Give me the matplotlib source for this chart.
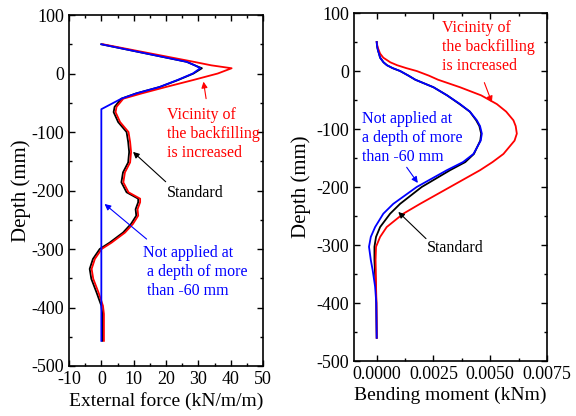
import numpy as np
import matplotlib
matplotlib.use('Agg')
import matplotlib.pyplot as plt
from matplotlib.ticker import MultipleLocator

plt.rcParams['font.family'] = ['Liberation Serif', 'DejaVu Serif']
plt.rcParams['axes.unicode_minus'] = False

# DATA --------------------------------------------------------------------------------------------->
# external force (kN/m/m) against depth (mm)
depth_f = [50, 20, 14, 9, 0, -11, -23, -34, -43, -57, -66, -83, -100, -117, -134, -152, -169,
           -186, -203, -214, -220, -232, -243, -257, -272, -289, -300, -317, -334, -351, -374,
           -397, -411, -457]
force_std = [0, 26.4, 28.9, 31.1, 28.5, 23.8, 18.1, 10.8, 6.2, 4.1, 3.8, 5.2, 7.8, 8.3, 8.6, 8.3,
             6.7, 6.2, 7.8, 11.4, 11.4, 10.6, 10.8, 9.2, 6.7, 2.6, -0.5, -2.6, -3.6, -3.1, -1.5,
             0.0, 0.3, 0.3]
force_inc = [0.5, 28.6, 34.0, 40.3, 36.0, 28.5, 20.0, 12.5, 6.8, 4.7, 4.4, 5.8, 8.4, 8.9, 9.2, 8.9,
             7.3, 6.8, 8.4, 12.0, 12.0, 11.2, 11.4, 9.8, 7.3, 3.2, 0.1, -2.0, -3.0, -2.5, -0.9,
             0.5, 0.8, 0.8]
depth_na = [50, 20, 14, 9, 0, -11, -23, -34, -43, -61, -457]
force_na = [0, 26.4, 28.9, 30.6, 28.3, 23.6, 18.0, 10.8, 6.2, 0, 0]

# bending moment (kNm) against depth (mm)
depth_m = [50, 45, 40, 35, 30, 23, 15, 10, 5, 0, -8, -15, -28, -42, -57, -70, -85, -95, -108, -120,
           -143, -157, -171, -200, -229, -246, -269, -286, -303, -326, -343, -372, -400, -460]
moment_na = [0, 0.00001, 0.00003, 0.00006, 0.0001, 0.00015, 0.0003, 0.00045, 0.0007, 0.00103,
             0.0014, 0.0017, 0.0025, 0.0031, 0.00367, 0.0041, 0.00441, 0.00455, 0.00463, 0.00458,
             0.00426, 0.0038, 0.00309, 0.00176, 0.00073, 0.00029, -0.00007, -0.00026, -0.00034,
             -0.00026, -0.00018, -0.00007, -0.00002, 0]
moment_std = [0, 0.00001, 0.00003, 0.00006, 0.0001, 0.00015, 0.0003, 0.00045, 0.0007, 0.00103,
              0.0014, 0.0017, 0.0025, 0.0031, 0.00365, 0.0041, 0.00438, 0.00452, 0.0046, 0.00456,
              0.00428, 0.0039, 0.00323, 0.00198, 0.00103, 0.00059, 0.00015, -0.00003, -0.0001,
              -0.0001, -0.00008, -0.00004, -0.00002, 0]
moment_inc = [0, 0.00002, 0.00005, 0.0001, 0.00015, 0.00029, 0.0006, 0.0009, 0.0013, 0.00176,
              0.0023, 0.0027, 0.00367, 0.0046, 0.00529, 0.0057, 0.00602, 0.00612, 0.00617,
              0.00607, 0.00558, 0.0051, 0.00455, 0.00323, 0.00191, 0.00117, 0.00044, 0.00015,
              -0.00003, -0.00005, -0.00004, -0.00003, -0.00001, 0]

txt_inc = 'Vicinity of\nthe backfilling\nis increased'
txt_std = 'Standard'

# FIGURE ------------------------------------------------------------------------------------------->
fig = plt.figure(figsize=(5.76, 4.16), dpi=100)
ax1 = fig.add_axes([0.1198, 0.1202, 0.3368, 0.8437])
ax2 = fig.add_axes([0.6146, 0.1322, 0.3351, 0.8365])

lw = 1.3
tsize = 11.5


def style(ax, lab_x):
    ax.tick_params(which='both', direction='in', top=True, right=True, labelsize=13)
    ax.tick_params(which='major', length=4, width=1)
    ax.tick_params(which='minor', length=2.5, width=1)
    for s in ax.spines.values():
        s.set_linewidth(1.2)
    ax.set_ylim(-500, 100)
    ax.yaxis.set_major_locator(MultipleLocator(100))
    ax.yaxis.set_minor_locator(MultipleLocator(50))
    ax.set_ylabel('Depth (mm)', fontsize=15)
    ax.yaxis.set_label_coords(lab_x, 0.5)


# left panel: external force
ax1.plot(force_std, depth_f, color='black', lw=lw)
ax1.plot(force_inc, depth_f, color='red', lw=lw)
ax1.plot(force_na, depth_na, color='blue', lw=lw)
ax1.set_xlim(-10, 50)
ax1.xaxis.set_major_locator(MultipleLocator(10))
ax1.xaxis.set_minor_locator(MultipleLocator(5))
ax1.set_xlabel('External force (kN/m/m)', fontsize=14, labelpad=3)
style(ax1, -0.196)

arrow = dict(arrowstyle='-|>', mutation_scale=9, lw=0.8, shrinkA=0, shrinkB=0)
ax1.annotate('', xy=(31.6, -14), xytext=(32.4, -43), arrowprops=dict(arrow, color='red'))
ax1.text(20.3, -58, txt_inc, color='red', fontsize=tsize, ha='left', va='top', linespacing=1.25)
ax1.annotate('', xy=(9.8, -134), xytext=(19.9, -185), arrowprops=dict(arrow, color='black'))
ax1.text(20.3, -205, txt_std, color='black', fontsize=tsize, ha='left', va='center')
ax1.annotate('', xy=(1.0, -223), xytext=(14.0, -283), arrowprops=dict(arrow, color='blue'))
ax1.text(12.9, -294, 'Not applied at\n a depth of more\n than -60 mm', color='blue',
         fontsize=tsize, ha='left', va='top', linespacing=1.25)

# right panel: bending moment
ax2.plot(moment_std, depth_m, color='black', lw=lw)
ax2.plot(moment_inc, depth_m, color='red', lw=lw)
ax2.plot(moment_na, depth_m, color='blue', lw=lw)
ax2.set_xlim(-0.001, 0.0075)
ax2.xaxis.set_major_locator(MultipleLocator(0.0025))
ax2.xaxis.set_minor_locator(MultipleLocator(0.00125))
ax2.xaxis.set_major_formatter(plt.FormatStrFormatter('%.4f'))
ax2.set_xlabel('Bending moment (kNm)', fontsize=14, labelpad=3)
style(ax2, -0.223)

ax2.annotate('', xy=(0.00507, -54), xytext=(0.00474, -20), arrowprops=dict(arrow, color='red'))
ax2.text(0.00287, 88, txt_inc, color='red', fontsize=tsize, ha='left', va='top', linespacing=1.25)
ax2.annotate('', xy=(0.00181, -193), xytext=(0.00132, -166), arrowprops=dict(arrow, color='blue'))
ax2.text(-0.00066, -69, 'Not applied at\na depth of more\nthan -60 mm', color='blue',
         fontsize=tsize, ha='left', va='top', linespacing=1.25)
ax2.annotate('', xy=(0.00095, -243), xytext=(0.00217, -289), arrowprops=dict(arrow, color='black'))
ax2.text(0.00223, -305, txt_std, color='black', fontsize=tsize, ha='left', va='center')

fig.savefig('out.png', dpi=100)
